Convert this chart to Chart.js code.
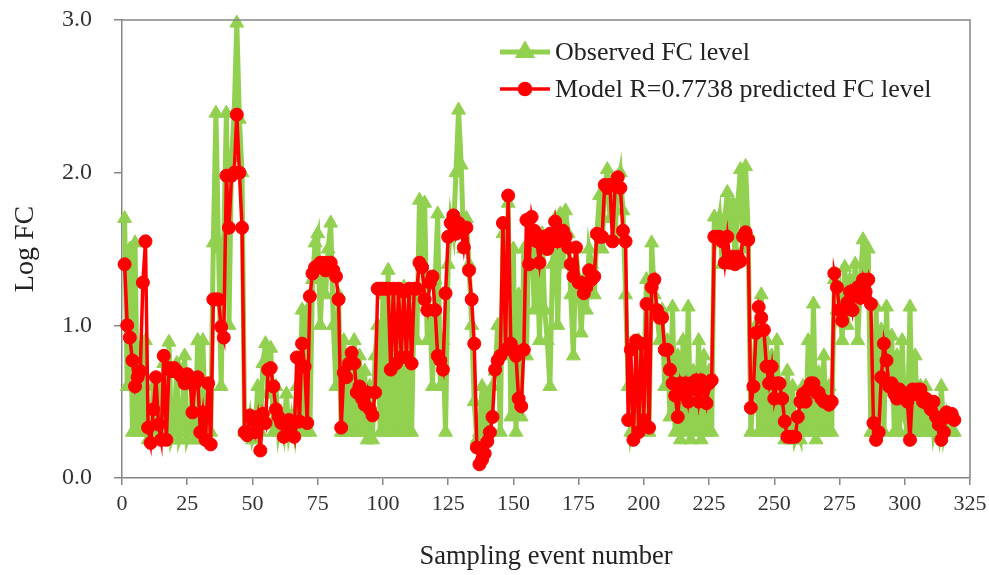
<!DOCTYPE html>
<html>
<head>
<meta charset="utf-8">
<script src="https://cdn.jsdelivr.net/npm/chart.js@4.4.1/dist/chart.umd.min.js"></script>
<style>
html,body{margin:0;padding:0;background:#fff;}
#wrap{width:989px;height:575px;}
</style>
</head>
<body>
<div id="wrap"><canvas id="c" width="989" height="575"></canvas></div>
<script>
const seriesNames = ["Observed FC level", "Model R=0.7738 predicted FC level"];
const xTicks = [0,25,50,75,100,125,150,175,200,225,250,275,300,325];
const yTicks = [0.0,1.0,2.0,3.0];

const observed = [
1.70,0.60,1.50,0.30,1.54,0.30,0.85,0.30,0.90,0.25,
0.25,0.60,0.25,0.60,0.25,0.75,0.25,0.89,0.25,0.30,
0.75,0.25,0.30,0.80,0.25,0.30,0.60,0.25,0.90,0.25,
0.90,0.25,0.60,0.30,1.54,2.39,1.50,0.60,1.55,2.39,
1.00,2.10,2.39,2.98,2.35,2.00,0.30,0.30,0.40,0.25,
0.30,0.60,0.30,0.75,0.88,0.55,0.85,0.30,0.60,0.30,
0.40,0.30,0.55,0.30,0.40,0.30,0.60,0.30,1.10,0.30,
1.10,0.30,1.30,1.54,1.60,1.00,1.40,1.20,1.50,1.67,
1.00,0.60,1.20,0.30,0.90,0.30,0.70,0.30,0.90,0.30,
0.80,0.30,0.70,0.25,0.60,0.25,0.80,1.00,0.30,1.20,
0.30,1.36,0.30,1.20,0.30,1.00,0.30,1.25,0.30,0.90,
0.30,1.20,0.90,1.82,1.40,1.80,0.90,1.10,0.60,1.30,
1.73,0.60,0.90,0.30,1.40,1.70,1.60,2.00,2.41,2.05,
1.50,1.70,1.40,1.00,0.50,0.25,0.30,0.60,0.30,0.55,
0.30,0.60,0.70,1.00,0.30,1.60,0.80,1.80,0.40,1.50,
0.30,1.20,0.40,1.50,0.80,1.70,1.60,1.10,1.50,0.90,
1.60,1.10,0.90,0.60,1.40,1.70,1.00,1.73,1.40,1.75,
1.60,1.20,0.80,1.50,1.30,0.95,1.30,1.10,1.50,1.40,
1.20,1.60,1.85,1.50,1.90,2.02,1.70,1.95,1.60,1.90,
2.00,1.75,1.20,0.60,0.30,0.40,0.30,0.90,0.30,0.60,
1.30,0.30,1.54,1.20,1.10,0.90,1.10,0.60,0.90,0.40,
1.12,0.30,0.80,0.25,0.90,0.30,1.12,0.25,0.70,0.30,
0.90,0.25,0.80,0.30,0.70,0.30,1.71,1.60,1.71,1.40,
1.70,1.87,1.60,1.80,1.40,1.80,2.02,1.50,2.04,1.60,
0.30,0.60,1.00,0.30,1.20,0.30,0.90,0.30,0.80,0.30,
0.90,0.30,0.60,0.25,0.70,0.25,0.60,0.25,0.30,0.25,
0.60,0.30,0.90,0.30,1.14,0.25,0.69,0.30,0.80,0.30,
0.60,0.30,1.30,1.10,1.20,0.90,1.38,1.00,1.30,1.10,
1.40,0.90,1.30,1.56,1.20,1.50,0.30,0.30,1.12,0.40,
0.97,0.30,1.12,0.60,0.93,0.30,0.80,0.30,0.90,0.40,
0.30,1.12,0.30,0.80,0.30,0.60,0.30,0.60,0.30,0.50,
0.30,0.40,0.30,0.60,0.30,0.40,0.30,0.30,0.30
];

const predicted = [
1.40,1.00,0.92,0.77,0.60,0.66,0.70,1.28,1.55,0.33,
0.23,0.45,0.66,0.35,0.25,0.80,0.25,0.72,0.70,0.72,
0.70,0.68,0.66,0.62,0.68,0.65,0.43,0.62,0.66,0.30,
0.43,0.25,0.62,0.22,1.17,1.17,1.17,0.99,0.92,1.98,
1.64,1.98,2.00,2.38,2.00,1.64,0.30,0.28,0.41,0.38,
0.30,0.40,0.18,0.42,0.36,0.71,0.72,0.60,0.45,0.40,
0.36,0.27,0.36,0.38,0.34,0.27,0.79,0.37,0.88,0.73,
0.36,1.19,1.34,1.38,1.38,1.41,1.41,1.36,1.41,1.41,
1.36,1.32,1.17,0.33,0.69,0.66,0.75,0.82,0.75,0.56,
0.60,0.52,0.48,0.56,0.45,0.41,0.56,1.24,1.24,1.24,
1.24,1.24,0.71,1.24,0.75,1.24,0.79,1.22,0.79,1.24,
0.75,1.24,1.24,1.41,1.38,1.17,1.10,1.28,1.32,1.10,
0.80,0.77,0.71,1.21,1.58,1.67,1.72,1.60,1.67,1.64,
1.51,1.64,1.36,1.17,0.88,0.20,0.09,0.12,0.16,0.24,
0.30,0.40,0.71,0.77,0.80,1.67,0.84,1.85,0.88,0.84,
0.80,0.52,0.47,0.84,1.69,1.40,1.71,1.62,1.55,1.41,
1.58,1.55,1.50,1.60,1.55,1.68,1.55,1.62,1.62,1.58,
1.51,1.40,1.32,1.51,1.28,1.28,1.21,1.25,1.36,1.30,
1.32,1.60,1.58,1.58,1.92,1.90,1.92,1.55,1.92,1.97,
1.90,1.62,1.55,0.38,0.84,0.25,0.90,0.30,0.88,0.38,
1.14,0.33,1.25,1.30,1.10,1.05,1.05,0.84,0.84,0.71,
0.62,0.54,0.40,0.62,0.55,0.62,0.50,0.62,0.58,0.64,
0.50,0.64,0.58,0.49,0.62,0.64,1.58,1.58,1.58,1.55,
1.41,1.58,1.41,1.45,1.40,1.45,1.42,1.58,1.61,1.56,
0.46,0.60,0.95,1.12,1.05,0.97,0.73,0.62,0.73,0.52,
0.62,0.62,0.52,0.37,0.27,0.27,0.27,0.27,0.40,0.50,
0.55,0.50,0.58,0.62,0.62,0.56,0.56,0.52,0.50,0.50,
0.48,0.50,1.34,1.25,1.10,1.03,1.10,1.15,1.22,1.10,
1.22,1.25,1.18,1.30,1.22,1.30,1.14,0.36,0.25,0.30,
0.66,0.88,0.77,0.60,0.62,0.55,0.52,0.58,0.55,0.52,
0.50,0.25,0.58,0.55,0.58,0.58,0.50,0.52,0.48,0.45,
0.50,0.40,0.35,0.25,0.30,0.43,0.40,0.42,0.38
];

const GREEN = '#92d050';
const RED = '#ff0000';
const AXIS = '#868686';
const FONT = '"Liberation Serif", "Times New Roman", serif';

const toPts = arr => arr.map((v, i) => ({x: i + 1, y: v}));

const frameAndLegend = {
  id: 'frameAndLegend',
  afterDatasetsDraw(chart) {
    const {ctx, chartArea: a} = chart;
    ctx.save();
    ctx.strokeStyle = AXIS;
    ctx.lineWidth = 1.5;
    ctx.beginPath();
    ctx.moveTo(a.left, a.top); ctx.lineTo(a.right, a.top); ctx.lineTo(a.right, a.bottom);
    ctx.stroke();
    ctx.restore();
  },
  afterDraw(chart) {
    const {ctx} = chart;
    const items = [
      {ds: chart.data.datasets[0], y: 52},
      {ds: chart.data.datasets[1], y: 89}
    ];
    ctx.save();
    items.forEach(it => {
      const ds = it.ds;
      ctx.strokeStyle = ds.borderColor;
      ctx.lineWidth = ds.borderWidth;
      ctx.beginPath(); ctx.moveTo(500, it.y); ctx.lineTo(550, it.y); ctx.stroke();
      Chart.helpers.drawPoint(ctx, {pointStyle: ds.pointStyle, radius: ds.pointRadius * 0.85, borderWidth: 1}, 525, it.y);
      ctx.fillStyle = ds.pointBackgroundColor;
      ctx.strokeStyle = ds.pointBorderColor;
      ctx.fill();
      ctx.fillStyle = '#222';
      ctx.font = '26px ' + FONT;
      ctx.textBaseline = 'middle';
      ctx.textAlign = 'left';
      ctx.fillText(ds.label, 555, it.y + 1);
    });
    ctx.restore();
  }
};

new Chart(document.getElementById('c'), {
  type: 'line',
  data: {
    datasets: [
      {
        label: seriesNames[0],
        data: toPts(observed),
        borderColor: GREEN,
        backgroundColor: GREEN,
        pointBackgroundColor: GREEN,
        pointBorderColor: GREEN,
        borderWidth: 5,
        pointStyle: 'triangle',
        pointRadius: 8,
        pointBorderWidth: 1,
        tension: 0,
        order: 2,
        clip: false
      },
      {
        label: seriesNames[1],
        data: toPts(predicted),
        borderColor: RED,
        backgroundColor: RED,
        pointBackgroundColor: RED,
        pointBorderColor: RED,
        borderWidth: 3.5,
        pointStyle: 'circle',
        pointRadius: 6.5,
        pointBorderWidth: 1,
        tension: 0,
        order: 1,
        clip: false
      }
    ]
  },
  options: {
    responsive: false,
    animation: false,
    devicePixelRatio: 1,
    layout: {padding: {top: 20, right: 19, left: 9, bottom: 0}},
    plugins: {legend: {display: false}, tooltip: {enabled: false}},
    scales: {
      x: {
        type: 'linear',
        min: 0, max: 325,
        afterBuildTicks: s => { s.ticks = xTicks.map(v => ({value: v})); },
        afterFit: s => { s.height = 97; s.paddingLeft = 0; s.paddingRight = 0; },
        grid: {display: true, drawOnChartArea: false, drawTicks: true, tickLength: 7, color: AXIS, lineWidth: 1.5},
        border: {display: true, color: AXIS, width: 1.5},
        ticks: {color: '#333', font: {family: FONT, size: 22}, padding: 6, maxRotation: 0, autoSkip: false},
        title: {display: true, text: 'Sampling event number', color: '#222', font: {family: FONT, size: 26.5}, padding: {top: 0, bottom: 2}}
      },
      y: {
        min: 0, max: 3,
        afterBuildTicks: s => { s.ticks = yTicks.map(v => ({value: v})); },
        afterFit: s => { s.width = 113; s.paddingTop = 0; s.paddingBottom = 0; },
        grid: {display: true, drawOnChartArea: false, drawTicks: true, tickLength: 8, color: AXIS, lineWidth: 1.5},
        border: {display: true, color: AXIS, width: 1.5},
        ticks: {color: '#333', font: {family: FONT, size: 24}, padding: 22, callback: v => Number(v).toFixed(1)},
        title: {display: true, text: 'Log FC', color: '#222', font: {family: FONT, size: 28}, padding: {top: 0, bottom: 4}}
      }
    }
  },
  plugins: [frameAndLegend]
});
</script>
</body>
</html>
